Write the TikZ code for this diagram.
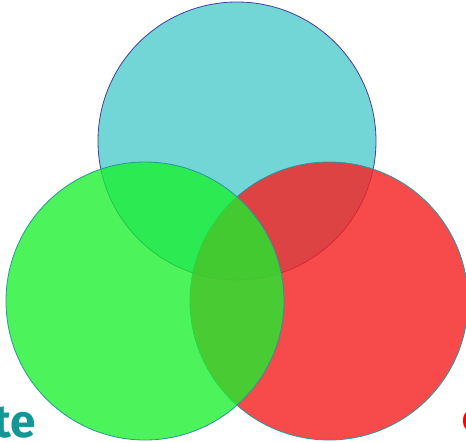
\documentclass[tikz,border=0pt]{standalone}
\usepackage{fontspec}
\setsansfont{Fira Sans}
\usetikzlibrary{positioning}
\definecolor{topfill}{RGB}{115,214,214}
\definecolor{leftfill}{RGB}{25,240,45}
\definecolor{rightfill}{RGB}{245,35,35}
\definecolor{topline}{RGB}{70,60,160}
\definecolor{setline}{RGB}{40,150,160}
\definecolor{labelteal}{RGB}{20,150,150}

\begin{document}
\begin{tikzpicture}[x=1pt, y=-1pt,
    set/.style={circle, draw, line width=0.8pt, minimum size=278pt, inner sep=0pt}]
\useasboundingbox (0,0) rectangle (466,442);
% the three sets
\node[set, fill=topfill, draw=topline] (top) at (237,141) {};
\node[set, fill=rightfill, fill opacity=0.82, draw=setline] (right) at (329,301) {};
\node[set, fill=leftfill, fill opacity=0.78, draw=setline] (left) at (145,301) {};
% labels, cut by the page edge
\node[anchor=base east, inner sep=0pt, text=labelteal, font=\sffamily\bfseries\fontsize{46}{46}\selectfont] (leftlabel) at (36,437) {te};
\node[anchor=base west, inner sep=0pt, text=red, font=\sffamily\bfseries\fontsize{30}{30}\selectfont] (rightlabel) at (462,431) {C};
\end{tikzpicture}
\end{document}
